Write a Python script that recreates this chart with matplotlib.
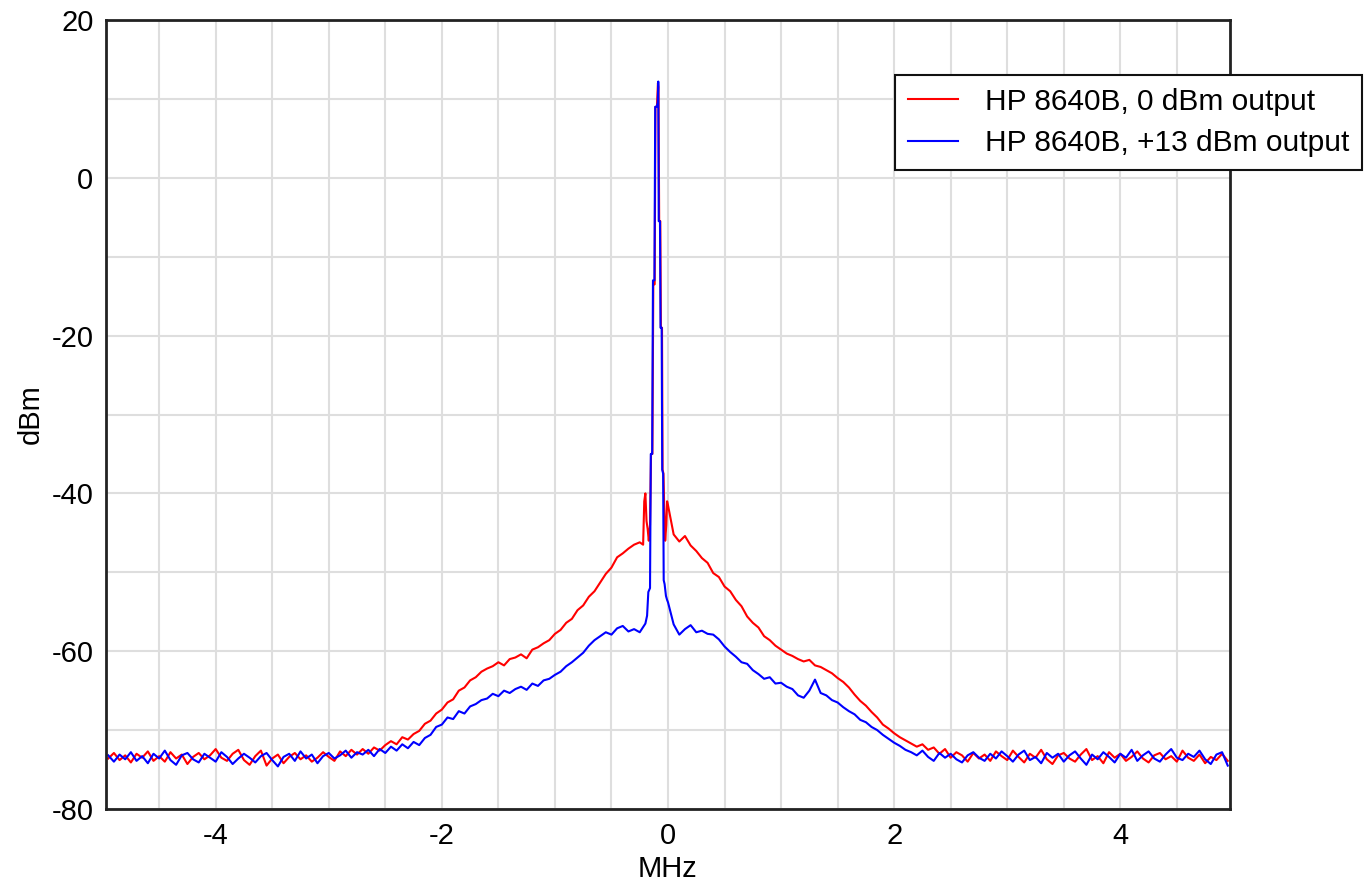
import matplotlib
matplotlib.use('Agg')
import matplotlib.pyplot as plt
import numpy as np
from matplotlib.ticker import MultipleLocator

plt.rcParams['font.family'] = ['Liberation Sans', 'DejaVu Sans']
plt.rcParams['font.size'] = 21
plt.rcParams['axes.unicode_minus'] = False

# Frequency steps (MHz) for the broad part of the trace
step = 0.05
left_start = -4.95   # left segment runs -4.95 .. -0.25
right_start = 0.0    # right segment runs 0.00 .. 4.95

# HP 8640B, 0 dBm output  (dBm)
red_left = [
    -73.6, -72.9, -73.8, -73.2, -74.1, -73.0, -73.5, -72.7, -73.9, -73.3,
    -74.0, -72.8, -73.6, -73.1, -74.3, -73.4, -72.9, -73.7, -73.2, -72.4,
    -73.5, -73.9, -73.0, -72.5, -73.8, -74.4, -73.3, -72.6, -74.5, -73.6,
    -73.1, -74.2, -73.4, -72.9, -73.7, -73.2, -74.0, -73.5, -72.8, -73.4,
    -73.9, -72.7, -73.3, -72.5, -73.1, -72.4, -73.0, -72.2, -72.6, -71.9,
    -71.4, -71.8, -70.9, -71.2, -70.5, -70.1, -69.2, -68.8, -67.9, -67.4,
    -66.5, -66.1, -65.0, -64.6, -63.7, -63.3, -62.6, -62.2, -61.9, -61.4,
    -61.8, -61.0, -60.8, -60.4, -60.9, -59.8, -59.5, -59.0, -58.6, -57.8,
    -57.3, -56.4, -55.9, -54.8, -54.2, -53.1, -52.4, -51.3, -50.2, -49.4,
    -48.1, -47.6, -47.0, -46.5, -46.2,
]
red_peak_f = [-0.22, -0.21, -0.20, -0.19, -0.18, -0.17, -0.159, -0.150, -0.138,
              -0.130, -0.118, -0.111, -0.098, -0.089, -0.084, -0.078, -0.068,
              -0.063, -0.053, -0.048, -0.040, -0.033, -0.025, -0.015, -0.008]
red_peak = [-46.5, -41.0, -40.0, -43.5, -44.5, -46.0, -44.0, -35.0, -35.0,
            -13.5, -13.5, 9.0, 9.0, 12.0, 11.5, -5.5, -5.5,
            -19.0, -19.0, -37.0, -37.5, -42.0, -46.0, -44.0, -41.0]
red_right = [
    -41.5, -45.2, -46.1, -45.4, -46.6, -47.3, -48.2, -48.8, -50.1, -50.6,
    -51.8, -52.4, -53.5, -54.3, -55.6, -56.4, -57.0, -58.1, -58.6, -59.3,
    -59.8, -60.3, -60.6, -61.0, -61.3, -61.1, -61.8, -62.0, -62.4, -62.8,
    -63.4, -63.9, -64.6, -65.5, -66.3, -66.9, -67.7, -68.4, -69.3, -69.8,
    -70.4, -70.9, -71.3, -71.7, -72.1, -71.8, -72.5, -72.2, -73.0, -72.4,
    -73.5, -72.8, -73.2, -74.0, -72.9, -73.6, -73.1, -73.9, -72.7, -73.3,
    -73.8, -72.6, -73.4, -74.1, -73.0, -73.5, -72.5, -73.7, -74.3, -73.2,
    -72.9, -73.6, -74.0, -73.1, -72.4, -73.8, -73.3, -74.2, -72.8, -73.5,
    -73.0, -73.9, -73.4, -72.7, -73.6, -74.1, -73.2, -72.9, -73.7, -73.3,
    -74.0, -72.6, -73.5, -73.9, -73.1, -74.2, -73.4, -73.8, -73.0, -73.9,
]

# HP 8640B, +13 dBm output  (dBm)
blue_left = [
    -73.2, -74.0, -73.1, -73.7, -72.8, -73.9, -73.3, -74.2, -73.0, -73.6,
    -72.6, -73.8, -74.4, -73.2, -72.9, -73.7, -74.1, -73.0, -73.5, -74.0,
    -72.8, -73.4, -74.3, -73.6, -73.0, -73.5, -74.1, -73.3, -72.9, -73.8,
    -74.6, -73.4, -73.0, -73.9, -72.7, -73.6, -73.1, -74.2, -73.3, -72.9,
    -73.6, -73.2, -72.6, -73.5, -72.8, -73.1, -72.5, -73.3, -72.4, -72.9,
    -72.1, -72.6, -71.8, -72.3, -71.5, -71.9, -71.0, -70.6, -69.6, -69.3,
    -68.4, -68.6, -67.6, -67.9, -67.0, -66.7, -66.2, -66.0, -65.4, -65.7,
    -65.0, -65.3, -64.8, -64.5, -64.9, -64.1, -64.4, -63.7, -63.5, -63.0,
    -62.6, -61.9, -61.4, -60.8, -60.2, -59.3, -58.6, -58.1, -57.6, -57.9,
    -57.1, -56.8, -57.5, -57.2, -57.6,
]
blue_peak_f = [-0.20, -0.185, -0.174, -0.159, -0.152, -0.140, -0.133, -0.120,
               -0.113, -0.100, -0.091, -0.086, -0.082, -0.071, -0.066, -0.056,
               -0.051, -0.043, -0.038, -0.030, -0.018, -0.008]
blue_peak = [-56.5, -55.5, -52.5, -52.0, -35.0, -35.0, -13.0, -13.0,
             9.0, 9.0, 9.5, 12.2, -5.5, -5.5, -19.0, -19.0,
             -37.0, -37.5, -51.0, -51.5, -53.0, -53.5]
blue_right = [
    -53.8, -56.6, -57.9, -57.2, -56.7, -57.6, -57.4, -57.8, -57.9, -58.5,
    -59.4, -60.1, -60.7, -61.4, -61.6, -62.4, -62.9, -63.5, -63.3, -64.1,
    -64.0, -64.5, -64.8, -65.6, -65.9, -65.0, -63.6, -65.3, -65.6, -66.2,
    -66.5, -67.1, -67.6, -68.0, -68.7, -69.0, -69.6, -70.0, -70.6, -71.1,
    -71.6, -72.0, -72.5, -72.8, -73.2, -72.6, -73.4, -73.9, -72.9, -73.5,
    -73.0, -73.7, -74.1, -73.2, -72.8, -73.5, -73.9, -73.0, -73.6, -72.7,
    -73.3, -74.0, -73.1, -72.6, -73.8, -73.4, -74.2, -72.9, -73.5, -73.0,
    -74.0, -73.2, -72.7, -73.6, -74.4, -73.1, -73.7, -72.8, -73.4, -74.1,
    -73.0, -73.5, -72.5, -73.9, -73.2, -72.7, -73.6, -74.0, -73.1, -72.4,
    -73.5, -73.8, -73.0, -73.4, -72.6, -73.7, -74.3, -73.1, -72.8, -74.5,
]

labels = ['HP 8640B, 0 dBm output', 'HP 8640B, +13 dBm output']


def build(left, peak_f, peak, right):
    fl = left_start + step * np.arange(len(left))
    fr = right_start + step * np.arange(len(right))
    f = np.concatenate([fl, np.array(peak_f), fr])
    v = np.concatenate([left, peak, right])
    return f, v


red_f, red_v = build(red_left, red_peak_f, red_peak, red_right)
blue_f, blue_v = build(blue_left, blue_peak_f, blue_peak, blue_right)

fig = plt.figure(figsize=(13.66, 8.82), dpi=100)
ax = fig.add_axes([106 / 1366, 1 - 809 / 882, (1230 - 106) / 1366, (809 - 20) / 882])

l1, = ax.plot(red_f, red_v, color='#ff0000', lw=1.5, label=labels[0])
l2, = ax.plot(blue_f, blue_v, color='#0000ff', lw=1.5, label=labels[1])

ax.set_xlim(-4.97, 4.97)
ax.set_ylim(-80, 20)
ax.xaxis.set_major_locator(MultipleLocator(2))
ax.xaxis.set_minor_locator(MultipleLocator(0.5))
ax.yaxis.set_major_locator(MultipleLocator(20))
ax.yaxis.set_minor_locator(MultipleLocator(10))
ax.grid(True, which='both', color='#dedede', lw=1.5)
ax.set_axisbelow(True)
ax.tick_params(which='both', length=0, pad=9, labelsize=21)

for s in ax.spines.values():
    s.set_color('#222222')
    s.set_linewidth(2)

ax.set_xlabel('MHz', fontsize=21, labelpad=4)
ax.set_ylabel('dBm', fontsize=21, labelpad=5)

leg = fig.legend(handles=[l1, l2], loc='upper left',
                 bbox_to_anchor=(895 / 1366, 1 - 75 / 882),
                 frameon=True, fancybox=False, borderaxespad=0,
                 handlelength=1.7, handletextpad=0.9, borderpad=0.42,
                 labelspacing=0.45, fontsize=21.5)
leg.get_frame().set_edgecolor('#111111')
leg.get_frame().set_linewidth(1.5)
leg.get_frame().set_alpha(1)

fig.savefig('out.png', dpi=100, facecolor='white')
